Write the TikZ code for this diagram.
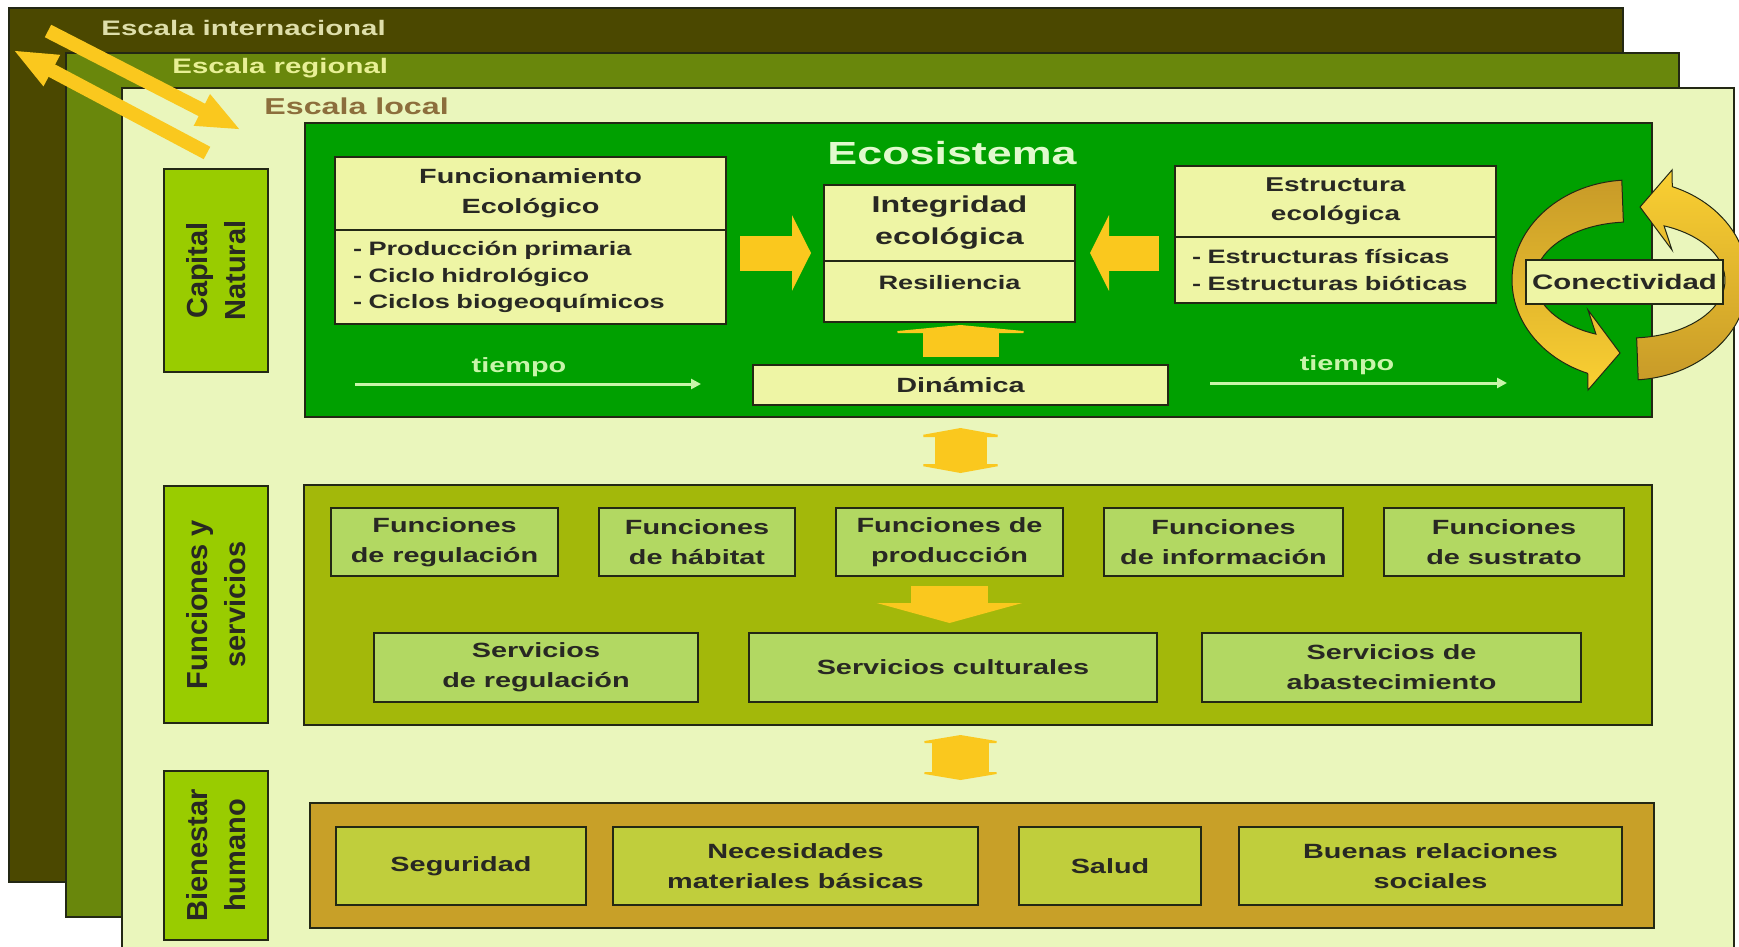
\documentclass[tikz,border=0pt]{standalone}
\usepackage{fontspec}
\setmainfont{Liberation Sans}[FakeStretch=1.4]
\newfontfamily\sidefont{Liberation Sans}
\usepackage{tikz}
\usetikzlibrary{arrows.meta,positioning}

\definecolor{intl}{RGB}{75,72,0}
\definecolor{regl}{RGB}{105,135,12}
\definecolor{locl}{RGB}{234,246,188}
\definecolor{edge}{RGB}{35,40,20}
\definecolor{labgreen}{RGB}{153,204,0}
\definecolor{ecogreen}{RGB}{0,160,0}
\definecolor{ecofill}{RGB}{238,245,165}
\definecolor{funpanelc}{RGB}{163,184,10}
\definecolor{funfill}{RGB}{178,216,98}
\definecolor{bienpanelc}{RGB}{200,160,40}
\definecolor{bienfill}{RGB}{192,206,60}
\definecolor{arrowyel}{RGB}{250,200,30}
\definecolor{dkgold}{RGB}{200,155,40}
\definecolor{ltyel}{RGB}{250,208,50}
\definecolor{txt}{RGB}{40,40,35}
\definecolor{intltxt}{RGB}{222,222,170}
\definecolor{regltxt}{RGB}{232,240,150}
\definecolor{locltxt}{RGB}{140,110,60}
\definecolor{ecotitle}{RGB}{225,250,205}
\definecolor{timec}{RGB}{200,245,170}

\begin{document}
\begin{tikzpicture}[x=0.5pt, y=-0.5pt,
  box/.style={draw=edge, line width=1pt, text=txt, align=center, inner sep=0pt, outer sep=0pt,
    font=\bfseries\fontsize{10.3}{15}\selectfont},
  ecobox/.style={box, fill=ecofill},
  funbox/.style={box, fill=funfill, minimum height=34pt},
  bienbox/.style={box, fill=bienfill, minimum height=39pt},
  panel/.style={draw=edge, line width=1pt, inner sep=0pt, outer sep=0pt},
  sidelab/.style={draw=edge, line width=1pt, fill=labgreen, rotate=90, minimum height=52pt,
    align=center, text=txt, font=\sidefont\bfseries\fontsize{14.5}{19}\selectfont},
  escala/.style={anchor=west, inner sep=0pt, font=\bfseries\fontsize{10.5}{12}\selectfont},
  timelab/.style={inner sep=0pt, text=timec, font=\bfseries\fontsize{10.3}{12}\selectfont},
  timearrow/.style={draw=timec, line width=1.5pt, -{Triangle[width=5pt,length=5pt]}},
  ringarrow/.style={draw=edge, line width=0.5pt},
  ]
    \useasboundingbox (0,0) rectangle (1739,947);
    \clip (0,0) rectangle (1739,947);
    \fill[white] (0,0) rectangle (1739,947);

    % Draw scale layers
    \draw[edge, fill=intl, line width=1pt] (9,8) rectangle (1623,882);
    \node[escala, text=intltxt] (intlab) at (101,28) {Escala internacional};
    \draw[edge, fill=regl, line width=1pt] (66,53) rectangle (1679,917);
    \node[escala, text=regltxt] (reglab) at (172,68) {Escala regional};
    \draw[edge, fill=locl, line width=1pt] (122,88) rectangle (1734,980);
    \node[escala, text=locltxt, font=\bfseries\fontsize{11.5}{13}\selectfont] (loclab) at (264,106) {Escala local};

    \coordinate (d1a) at (48,31);
    \coordinate (d1b) at (241,130);
    \coordinate (d2a) at (207,153);
    \coordinate (d2b) at (13,50);
    \draw[arrowyel, line width=7pt, -{Triangle[width=16pt,length=22pt]}] (d1a) -- (d1b);
    \draw[arrowyel, line width=7pt, -{Triangle[width=16pt,length=22pt]}] (d2a) -- (d2b);

    % side labels
    \node[sidelab, minimum width=101.5pt] (capital) at (216,270.5) {Capital\\Natural};
    \node[sidelab, minimum width=118.5pt] (funserv) at (216,604.5) {Funciones y\\servicios};
    \node[sidelab, minimum width=84.5pt] (bienestar) at (216,855.5) {Bienestar\\humano};

    % panels
    \node[panel, fill=ecogreen, minimum width=673.5pt, minimum height=147pt] (eco) at (978.5,270) {};
    \node[panel, fill=funpanelc, minimum width=674pt, minimum height=120pt] (funpanel) at (978,605) {};
    \node[panel, fill=bienpanelc, minimum width=672pt, minimum height=62.5pt] (bienpanel) at (982,865.5) {};

    % Ecosistema
    \node[text=ecotitle, inner sep=0pt, font=\bfseries\fontsize{16}{18}\selectfont] (ecotitle) at (952,153) {Ecosistema};
    \node[ecobox, minimum width=195.5pt, minimum height=36.5pt] (funtop) at (530.5,193.5) {Funcionamiento\\Ecológico};
    \node[ecobox, below=0pt of funtop, text width=177.5pt, inner xsep=9pt, minimum height=47pt, align=left,
      font=\bfseries\fontsize{9.7}{13.25}\selectfont] (funbot) {- Producción primaria\\- Ciclo hidrológico\\- Ciclos biogeoquímicos};
    \node[ecobox, minimum width=125.5pt, minimum height=38pt, font=\bfseries\fontsize{11.5}{16}\selectfont] (integ) at (949.5,223) {Integridad\\ecológica};
    \node[ecobox, below=0pt of integ, minimum width=125.5pt, text height=14pt, text depth=16.5pt,
      font=\bfseries\fontsize{9.7}{12}\selectfont] (resil) {Resiliencia};
    \node[ecobox, minimum width=160.5pt, minimum height=35.5pt, font=\bfseries\fontsize{10}{14.5}\selectfont] (estrtop) at (1335.5,201.5) {Estructura\\ecológica};
    \node[ecobox, below=0pt of estrtop, text width=143.5pt, inner xsep=8.5pt, minimum height=33pt, align=left,
      font=\bfseries\fontsize{9.7}{13.5}\selectfont] (estrbot) {- Estructuras físicas\\- Estructuras bióticas};
    \node[ecobox, minimum width=207.5pt, minimum height=20pt] (dina) at (960.5,385) {Dinámica};

    \coordinate (ifa) at ([yshift=4pt]integ.south west);
    \coordinate (ifb) at ([yshift=4pt]integ.south east);
    \draw[arrowyel, line width=17.5pt, -{Triangle[width=37.5pt,length=9.5pt]}, shorten <=7pt, shorten >=6.5pt] (funbot.east |- ifa) -- (ifa);
    \draw[arrowyel, line width=17.5pt, -{Triangle[width=37.5pt,length=9.5pt]}, shorten <=8pt, shorten >=7.5pt] (estrbot.west |- ifb) -- (ifb);
    \draw[arrowyel, line width=38pt, -{Triangle[width=84pt,length=4pt]}, shorten <=4pt, shorten >=1.5pt] (dina.north) -- (dina.north |- resil.south);

    \coordinate (t1a) at (355,384);
    \coordinate (t1b) at (701,384);
    \coordinate (t2a) at (1210,383);
    \coordinate (t2b) at (1507,383);
    \draw[timearrow] (t1a) -- (t1b);
    \draw[timearrow] (t2a) -- (t2b);
    \node[timelab] (tiempo1) at (519,367) {tiempo};
    \node[timelab] (tiempo2) at (1347,365) {tiempo};

    % conectividad ring
    \coordinate (ring) at (1630,280);
    \begin{scope}[shift={(ring)}, yscale=-1]
      \path[ringarrow, top color=dkgold, bottom color=ltyel]
        (94:118 and 100) arc[start angle=94, end angle=249, x radius=118, y radius=100]
        -- (-42,-110) -- (-10,-73) -- (-42,-30)
        -- (249:95 and 58) arc[start angle=249, end angle=94, x radius=95, y radius=58] -- cycle;
      \path[ringarrow, top color=ltyel, bottom color=dkgold]
        (-86:118 and 100) arc[start angle=-86, end angle=69, x radius=118, y radius=100]
        -- (42,110) -- (10,73) -- (42,30)
        -- (69:95 and 58) arc[start angle=69, end angle=-86, x radius=95, y radius=58] -- cycle;
    \end{scope}
    \node[ecobox, minimum width=98.5pt, minimum height=22pt, font=\bfseries\fontsize{10.5}{12}\selectfont] (conect) at (1624.5,282) {Conectividad};

    % Funciones y servicios
    \node[funbox, minimum width=113.5pt] (fr1) at (444.5,542) {Funciones\\de regulación};
    \node[funbox, minimum width=98pt] (fr2) at (697,542) {Funciones\\de hábitat};
    \node[funbox, minimum width=113.5pt] (fr3) at (949.5,542) {Funciones de\\producción};
    \node[funbox, minimum width=119.5pt] (fr4) at (1223.5,542) {Funciones\\de información};
    \node[funbox, minimum width=120pt] (fr5) at (1504,542) {Funciones\\de sustrato};
    \node[funbox, minimum width=162pt, minimum height=34.5pt] (sr1) at (536,667.5) {Servicios\\de regulación};
    \node[funbox, minimum width=204pt, minimum height=34.5pt] (sr2) at (953,667.5) {Servicios culturales};
    \node[funbox, minimum width=189.5pt, minimum height=34.5pt] (sr3) at (1391.5,667.5) {Servicios de\\abastecimiento};
    \draw[arrowyel, line width=38.5pt, -{Triangle[width=72.5pt,length=10pt]}, shorten <=5pt, shorten >=5pt] (fr3.south) -- (fr3.south |- sr2.north);

    % Bienestar humano
    \node[bienbox, minimum width=125pt] (seg) at (461,866) {Seguridad};
    \node[bienbox, minimum width=182.5pt] (neces) at (795.5,866) {Necesidades\\materiales básicas};
    \node[bienbox, minimum width=91pt] (salud) at (1110,866) {Salud};
    \node[bienbox, minimum width=191.5pt] (buenas) at (1430.5,866) {Buenas relaciones\\sociales};

    % links between panels
    \draw[arrowyel, line width=26pt, {Triangle[width=49.5pt,length=4.5pt]}-{Triangle[width=49.5pt,length=4.5pt]},
      shorten <=5.5pt, shorten >=6pt] (eco.south -| dina) -- (funpanel.north -| dina);
    \draw[arrowyel, line width=28.5pt, {Triangle[width=48pt,length=4pt]}-{Triangle[width=48pt,length=4pt]},
      shorten <=5pt, shorten >=11.5pt] (funpanel.south -| dina) -- (bienpanel.north -| dina);

\end{tikzpicture}
\end{document}
